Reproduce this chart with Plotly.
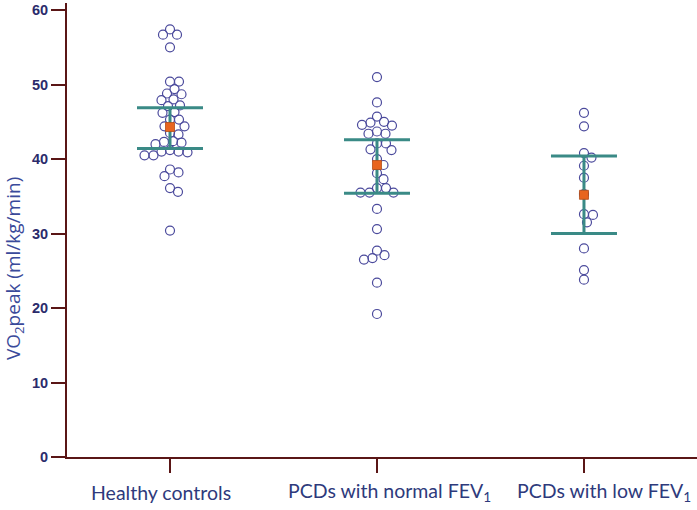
import plotly.graph_objects as go
import numpy as np

categories = ["Healthy controls", "PCDs with normal FEV<sub>1</sub>", "PCDs with low FEV<sub>1</sub>"]
label_shift_px = [-9, 13, 20]
y_title = "VO<sub>2</sub>peak (ml/kg/min)"

healthy = [57.4, 56.7, 56.7, 55.0, 50.4, 50.4, 49.4, 48.7, 48.8, 47.9, 48.0, 47.1, 47.2,
           46.2, 46.3, 45.3, 45.3, 44.4, 44.4, 43.5, 43.3, 42.0, 42.2, 42.3, 42.4,
           40.5, 40.5, 40.9, 41.0, 41.0, 41.2, 38.6, 38.2, 37.7, 36.1, 35.6, 30.4]
pcd_normal = [51.0, 47.6, 45.7, 45.0, 44.9, 44.6, 44.5, 43.4, 43.4, 43.7, 42.1, 42.1,
              41.2, 41.3, 40.0, 39.2, 38.1, 37.3, 35.5, 35.5, 35.5, 36.1, 36.1,
              33.3, 30.6, 27.7, 27.1, 26.7, 26.5, 23.4, 19.2]
pcd_low = [46.2, 44.4, 40.2, 40.8, 39.1, 37.5, 35.3, 32.5, 32.6, 31.5, 28.0, 25.1, 23.8]

means = [44.3, 39.2, 35.2]
upper = [46.9, 42.6, 40.4]
lower = [41.4, 35.4, 30.0]

groups = [healthy, pcd_normal, pcd_low]

# layout geometry
W, H = 697, 510
ml, mr, mt, mb = 67, 0, 3, 53
xr = [-0.4976, 2.546]
yr = [0, 60.95]
px_x = (W - ml - mr) / (xr[1] - xr[0])
px_y = (H - mt - mb) / (yr[1] - yr[0])


def swarm(vals, center, dmin=8.6):
    placed = []  # (xpx, ypx)
    xs = [None] * len(vals)
    order = sorted(range(len(vals)), key=lambda i: -vals[i])
    for i in order:
        ypx = vals[i] * px_y
        cands = [0.0]
        for k in range(1, 80):
            cands += [k * 0.5, -k * 0.5]
        for c in cands:
            if all((c - px) ** 2 + (ypx - py) ** 2 >= dmin ** 2 for px, py in placed):
                placed.append((c, ypx))
                xs[i] = center + c / px_x
                break
    return xs


fig = go.Figure()
circle_col = "#4b4a9c"
for gi, vals in enumerate(groups):
    fig.add_trace(go.Scatter(
        x=swarm(vals, gi), y=vals, mode="markers",
        marker=dict(symbol="circle-open", size=9, color=circle_col, line=dict(width=1.2, color=circle_col)),
        showlegend=False, hoverinfo="y", cliponaxis=False))

fig.add_trace(go.Scatter(
    x=list(range(len(means))), y=means, mode="markers",
    marker=dict(symbol="square", size=9, color="#e8651f", line=dict(width=0.8, color="#b34c18")),
    error_y=dict(type="data", symmetric=False,
                 array=[u - m for u, m in zip(upper, means)],
                 arrayminus=[m - l for m, l in zip(means, lower)],
                 color="#3a8a86", thickness=3, width=33),
    showlegend=False))

axis_col = "#5a1616"
annotations = [dict(text=y_title, textangle=-90, xref="paper", yref="paper",
                    x=-0.084, y=0.414, xanchor="center", yanchor="middle", showarrow=False,
                    font=dict(family="Open Sans", size=19, color="#3a4a9a"))]
for i, (lab, sh) in enumerate(zip(categories, label_shift_px)):
    annotations.append(dict(text=lab, x=i, xref="x", y=0, yref="paper",
                            xanchor="center", yanchor="middle", xshift=sh, yshift=-35,
                            showarrow=False,
                            font=dict(family="Lato", size=19.5, color="#2e3a7c")))

fig.update_layout(
    width=W, height=H,
    margin=dict(l=ml, r=mr, t=mt, b=mb, autoexpand=False),
    plot_bgcolor="white", paper_bgcolor="white",
    xaxis=dict(range=xr, tickvals=[0, 1, 2], showticklabels=False, automargin=False,
               showgrid=False, zeroline=False, showline=True, linecolor=axis_col, linewidth=2,
               ticks="outside", ticklen=14, tickwidth=2, tickcolor=axis_col),
    yaxis=dict(range=yr, tickvals=[0, 10, 20, 30, 40, 50, 60], automargin=False,
               showgrid=False, zeroline=False, showline=True, linecolor=axis_col, linewidth=2,
               ticks="outside", ticklen=14, tickwidth=2, tickcolor=axis_col,
               tickfont=dict(family="Liberation Sans", size=14.5, color="#2b2b6b", weight="bold"),
               ticklabelstandoff=0, ticklabeloverflow="allow"),
    annotations=annotations,
)

fig.write_html("out.html", config={"displayModeBar": False},
               post_script="document.body.style.margin='0px';")
